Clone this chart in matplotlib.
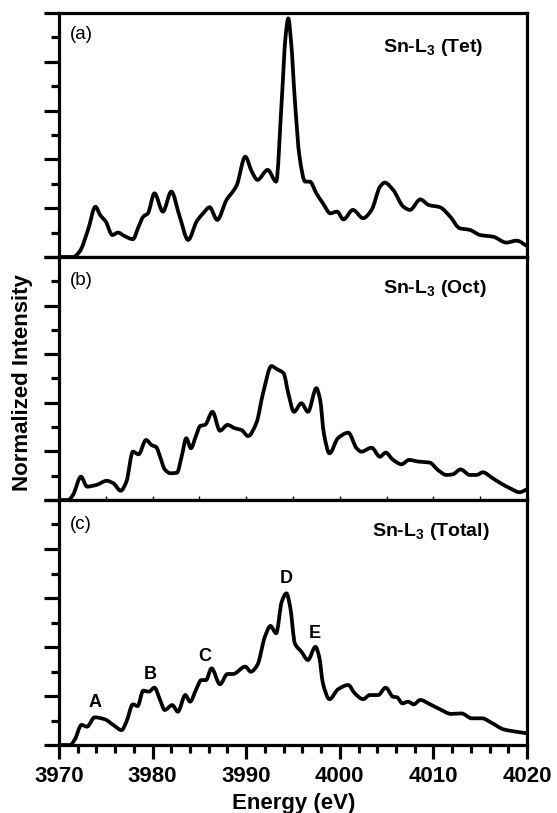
import numpy as np
import matplotlib
matplotlib.use("Agg")
import matplotlib.pyplot as plt
from matplotlib.path import Path
from matplotlib.patches import PathPatch
from matplotlib.ticker import MultipleLocator

plt.rcParams['font.family'] = ['Liberation Sans', 'DejaVu Sans']
plt.rcParams['mathtext.fontset'] = 'custom'
plt.rcParams['mathtext.rm'] = 'Liberation Sans:bold'
plt.rcParams['mathtext.default'] = 'rm'

# Sn L3-edge spectra, tetrahedral site
e_tet = [3970.0, 3971.5, 3972.2, 3973.1, 3973.9, 3974.4, 3975.0, 3975.7, 3976.3, 3977.0,
         3977.9, 3978.5, 3979.0, 3979.5, 3980.2, 3981.1, 3982.0, 3982.9, 3983.8, 3984.7,
         3985.4, 3986.1, 3986.9, 3987.9, 3988.7, 3989.0, 3989.9, 3990.6, 3991.2, 3992.3,
         3993.2, 3993.8, 3994.2, 3994.5, 3994.8, 3995.2, 3995.7, 3996.3, 3996.8, 3997.5,
         3998.2, 3999.0, 3999.7, 4000.4, 4001.4, 4002.5, 4003.4, 4004.3, 4004.8, 4005.7,
         4006.8, 4007.5, 4008.6, 4009.5, 4010.7, 4011.8, 4012.8, 4013.9, 4015.0, 4016.4,
         4017.8, 4018.9, 4020.0]
i_tet = [0.0, 0.0, 0.022, 0.111, 0.206, 0.172, 0.145, 0.090, 0.100, 0.086,
         0.073, 0.124, 0.165, 0.179, 0.261, 0.186, 0.268, 0.165, 0.070, 0.145,
         0.179, 0.204, 0.152, 0.234, 0.275, 0.295, 0.411, 0.350, 0.316, 0.357,
         0.309, 0.643, 0.900, 0.978, 0.880, 0.643, 0.411, 0.309, 0.309, 0.261,
         0.220, 0.179, 0.186, 0.154, 0.193, 0.159, 0.193, 0.288, 0.305, 0.275,
         0.206, 0.193, 0.236, 0.213, 0.204, 0.165, 0.118, 0.111, 0.090, 0.083,
         0.059, 0.067, 0.045]

# octahedral site
e_oct = [3970.0, 3971.0, 3971.5, 3972.35, 3973.0, 3974.0, 3975.1, 3975.8, 3976.6, 3977.2,
         3977.9, 3978.5, 3979.3, 3979.9, 3980.4, 3980.8, 3981.3, 3981.9, 3982.6, 3983.1,
         3983.6, 3984.1, 3984.6, 3985.1, 3985.6, 3986.4, 3987.2, 3988.0, 3988.8, 3989.5,
         3990.2, 3991.1, 3991.8, 3992.7, 3993.3, 3994.0, 3994.5, 3995.1, 3995.9, 3996.6,
         3997.5, 3997.9, 3998.3, 3998.9, 3999.8, 4000.9, 4001.8, 4002.3, 4003.4, 4004.3,
         4004.9, 4005.7, 4006.6, 4007.4, 4008.4, 4009.6, 4010.5, 4011.4, 4012.1, 4012.9,
         4013.9, 4014.6, 4015.3, 4016.2, 4017.1, 4018.2, 4019.2, 4020.0]
i_oct = [0.0, 0.0, 0.021, 0.096, 0.055, 0.062, 0.079, 0.069, 0.038, 0.075,
         0.199, 0.188, 0.247, 0.226, 0.217, 0.178, 0.126, 0.110, 0.112, 0.178,
         0.254, 0.213, 0.260, 0.305, 0.309, 0.363, 0.285, 0.309, 0.295, 0.288,
         0.263, 0.318, 0.439, 0.551, 0.538, 0.521, 0.439, 0.363, 0.398, 0.363,
         0.460, 0.412, 0.274, 0.192, 0.254, 0.277, 0.213, 0.199, 0.215, 0.178,
         0.195, 0.165, 0.147, 0.165, 0.158, 0.154, 0.123, 0.103, 0.106, 0.126,
         0.103, 0.103, 0.114, 0.093, 0.071, 0.048, 0.032, 0.044]

# total
e_tot = [3970.0, 3971.2, 3971.7, 3972.4, 3973.0, 3973.8, 3974.9, 3975.8, 3976.7, 3977.2,
         3977.9, 3978.4, 3979.0, 3979.6, 3980.2, 3980.8, 3981.3, 3982.1, 3982.7, 3983.5,
         3984.0, 3984.7, 3985.2, 3985.7, 3986.3, 3987.2, 3988.0, 3988.6, 3989.9, 3990.5,
         3991.2, 3992.0, 3992.6, 3993.2, 3993.8, 3994.3, 3994.7, 3995.2, 3995.9, 3996.6,
         3997.4, 3997.8, 3998.2, 3998.9, 3999.8, 4000.9, 4001.6, 4002.5, 4003.2, 4004.1,
         4004.9, 4005.7, 4006.1, 4006.7, 4007.3, 4007.9, 4008.6, 4009.6, 4010.7, 4011.9,
         4013.0, 4014.1, 4015.2, 4016.2, 4017.5, 4018.9, 4020.0]
i_tot = [0.0, 0.0, 0.023, 0.082, 0.075, 0.113, 0.105, 0.082, 0.061, 0.095,
         0.166, 0.159, 0.222, 0.218, 0.234, 0.184, 0.143, 0.163, 0.136, 0.204,
         0.177, 0.231, 0.265, 0.265, 0.313, 0.248, 0.290, 0.290, 0.320, 0.299,
         0.327, 0.442, 0.486, 0.456, 0.585, 0.619, 0.564, 0.415, 0.381, 0.347,
         0.401, 0.360, 0.252, 0.187, 0.227, 0.245, 0.211, 0.187, 0.204, 0.204,
         0.234, 0.197, 0.195, 0.170, 0.177, 0.166, 0.184, 0.167, 0.146, 0.127,
         0.129, 0.109, 0.109, 0.091, 0.064, 0.054, 0.048]

peak_names = ["A", "B", "C", "D", "E"]
peak_e = [3973.9, 3979.7, 3985.6, 3994.25, 3997.35]
peak_y = [0.173, 0.286, 0.360, 0.680, 0.456]

panels = [(e_tet, i_tet, "(a)", r"Sn-L$_3$ (Tet)"),
          (e_oct, i_oct, "(b)", r"Sn-L$_3$ (Oct)"),
          (e_tot, i_tot, "(c)", r"Sn-L$_3$ (Total)")]


def smooth_path(x, y):
    # cubic Bezier path through the points, PCHIP-style slopes (no overshoot)
    x = np.asarray(x, float)
    y = np.asarray(y, float)
    h = np.diff(x)
    d = np.diff(y) / h
    m = np.zeros_like(y)
    for i in range(1, len(x) - 1):
        if d[i - 1] * d[i] > 0:
            w1 = 2 * h[i] + h[i - 1]
            w2 = h[i] + 2 * h[i - 1]
            m[i] = (w1 + w2) / (w1 / d[i - 1] + w2 / d[i])
    m[0], m[-1] = d[0], d[-1]
    verts = [(x[0], y[0])]
    codes = [Path.MOVETO]
    for i in range(len(x) - 1):
        verts += [(x[i] + h[i] / 3, y[i] + m[i] * h[i] / 3),
                  (x[i + 1] - h[i] / 3, y[i + 1] - m[i + 1] * h[i] / 3),
                  (x[i + 1], y[i + 1])]
        codes += [Path.CURVE4] * 3
    return Path(verts, codes)


fig = plt.figure(figsize=(5.57, 8.13), dpi=100)
left, width = 0.1059, 0.8402
bottoms = [0.6839, 0.3850, 0.0836]
heights = [0.3001, 0.2989, 0.3014]

axes = []
for k, (e, inten, tag, name) in enumerate(panels):
    ax = fig.add_axes([left, bottoms[k], width, heights[k]])
    ax.add_patch(PathPatch(smooth_path(e, inten), facecolor="none", edgecolor="black",
                           lw=2.7, joinstyle="round", capstyle="round"))
    ax.set_xlim(3970, 4020)
    ax.set_ylim(0, 1)
    for s in ax.spines.values():
        s.set_linewidth(2.3)
        s.set_zorder(3)
    ax.yaxis.set_major_locator(MultipleLocator(0.2))
    ax.yaxis.set_minor_locator(MultipleLocator(0.1))
    ax.tick_params(axis="y", which="major", direction="out", length=11, width=2.3, labelleft=False)
    ax.tick_params(axis="y", which="minor", direction="out", length=5.5, width=2.3)
    ax.text(0.024, 0.91 - 0.005 * k, tag, transform=ax.transAxes, fontsize=13.5, va="center", ha="left")
    ax.text(0.692 if k < 2 else 0.668, 0.86 + 0.012 * (k > 0), name, transform=ax.transAxes,
            fontsize=14, fontweight="bold", va="center", ha="left")
    axes.append(ax)

# top panel: no x ticks
axes[0].tick_params(axis="x", which="both", bottom=False, labelbottom=False)

# middle panel: small inward ticks every 5 eV
axes[1].xaxis.set_major_locator(MultipleLocator(5))
axes[1].tick_params(axis="x", which="major", direction="in", length=3, width=1, labelbottom=False)

# bottom panel: energy axis
ax = axes[2]
ax.xaxis.set_major_locator(MultipleLocator(10))
ax.xaxis.set_minor_locator(MultipleLocator(2))
ax.tick_params(axis="x", which="major", direction="out", length=10, width=2.3, pad=5, labelsize=16)
ax.tick_params(axis="x", which="minor", direction="out", length=6, width=2.3)
for lbl in ax.get_xticklabels():
    lbl.set_fontweight("bold")
for name, xe, ye in zip(peak_names, peak_e, peak_y):
    ax.text(xe, ye, name, fontsize=13, fontweight="bold", ha="center", va="center")

fig.text(0.04, 0.529, "Normalized Intensity", rotation=90, fontsize=16, fontweight="bold",
         ha="center", va="center")
fig.text(0.528, 0.012, "Energy (eV)", fontsize=16, fontweight="bold", ha="center", va="center")

fig.savefig("out.png", dpi=100)
